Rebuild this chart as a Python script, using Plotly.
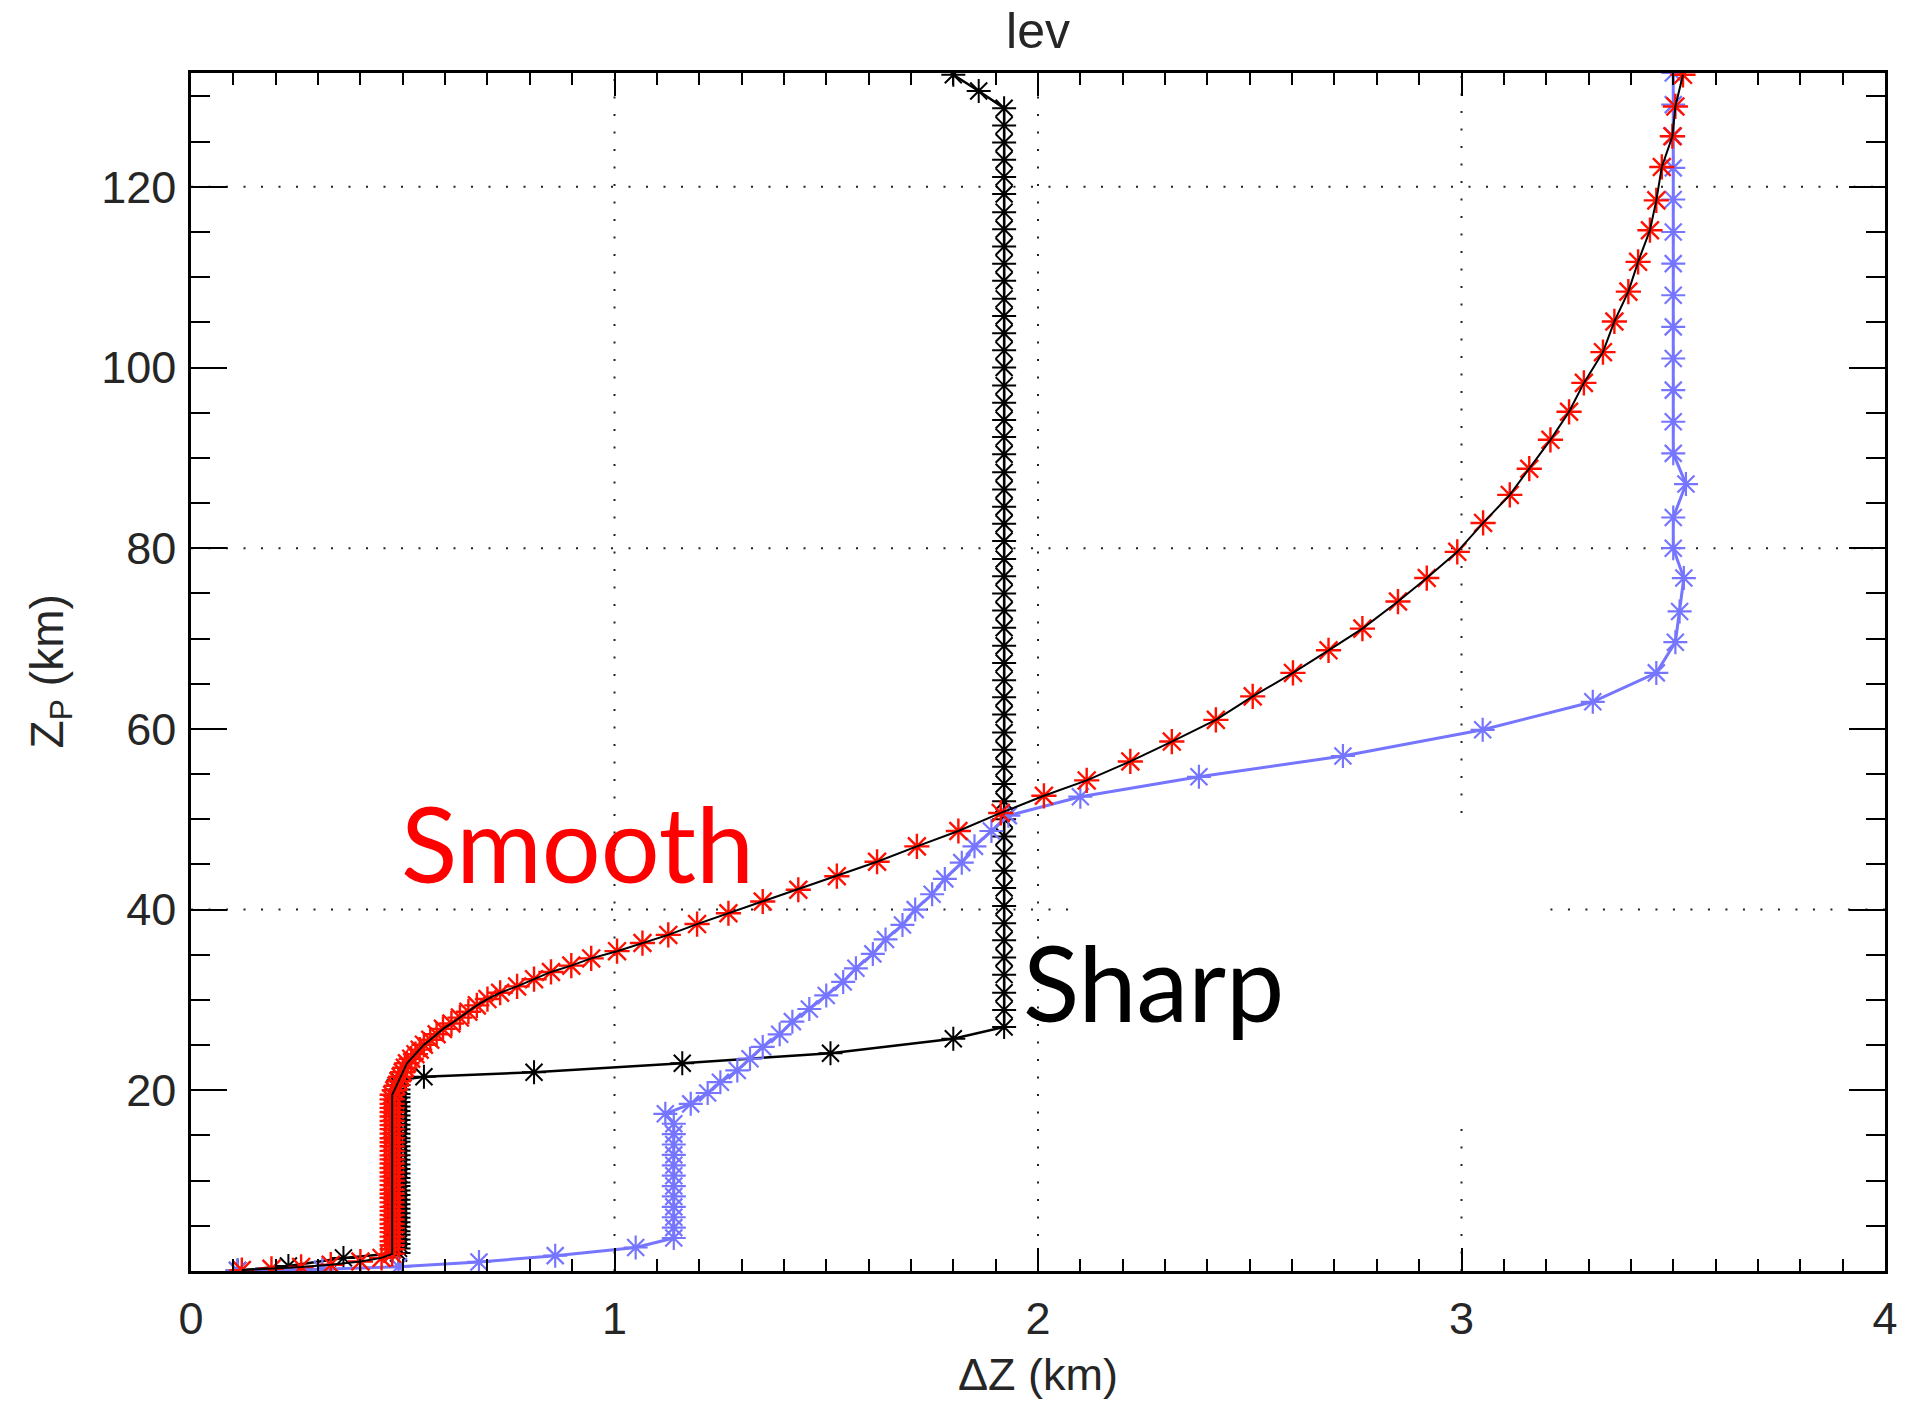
import plotly.graph_objects as go

# ---------------- data ----------------
# "Sharp" profile: layer thickness dZ (km) vs height Zp (km)
sharp_dz = [0.11, 0.23, 0.36,
            0.49, 0.49, 0.49, 0.49, 0.49, 0.49, 0.49, 0.49, 0.49, 0.49,
            0.49, 0.49, 0.49, 0.49, 0.49, 0.49, 0.49, 0.49, 0.49, 0.49,
            0.49, 0.49, 0.49, 0.49, 0.49, 0.49, 0.49, 0.49, 0.49, 0.49,
            0.49, 0.49, 0.49, 0.49, 0.49, 0.49, 0.49, 0.49, 0.49, 0.49,
            0.55, 0.81, 1.16, 1.51, 1.80,
            1.92, 1.92, 1.92, 1.92, 1.92, 1.92, 1.92, 1.92, 1.92, 1.92,
            1.92, 1.92, 1.92, 1.92, 1.92, 1.92, 1.92, 1.92, 1.92, 1.92,
            1.92, 1.92, 1.92, 1.92, 1.92, 1.92, 1.92, 1.92, 1.92, 1.92,
            1.92, 1.92, 1.92, 1.92, 1.92, 1.92, 1.92, 1.92, 1.92, 1.92,
            1.92, 1.92, 1.92, 1.92, 1.92, 1.92, 1.92, 1.92, 1.92, 1.92,
            1.92, 1.92, 1.92, 1.92,
            1.86, 1.80]
sharp_z = [0.05, 0.55, 1.45,
           2.0, 2.5, 3.0, 3.5, 4.0, 4.4, 4.9, 5.4, 5.9, 6.4,
           6.9, 7.4, 7.9, 8.4, 8.9, 9.4, 9.8, 10.3, 10.8, 11.3,
           11.8, 12.3, 12.8, 13.3, 13.8, 14.3, 14.7, 15.2, 15.7, 16.2,
           16.7, 17.2, 17.7, 18.2, 18.7, 19.2, 19.6, 20.1, 20.6, 21.1,
           21.5, 22.0, 23.0, 24.1, 25.7,
           27.0, 28.9, 30.8, 32.8, 34.7, 36.6, 38.5, 40.4, 42.4, 44.3,
           46.2, 48.1, 50.0, 52.0, 53.9, 55.8, 57.7, 59.6, 61.6, 63.5,
           65.4, 67.3, 69.2, 71.2, 73.1, 75.0, 76.9, 78.8, 80.8, 82.7,
           84.6, 86.5, 88.4, 90.4, 92.3, 94.2, 96.1, 98.0, 100.0, 101.9,
           103.8, 105.7, 107.6, 109.6, 111.5, 113.4, 115.3, 117.2, 119.2, 121.1,
           123.0, 124.9, 126.8, 128.7,
           130.6, 132.4]

# "Smooth" profile
smooth_dz = [0.12, 0.19, 0.26, 0.33, 0.40, 0.45,
             0.475, 0.475, 0.475, 0.475, 0.475, 0.475, 0.475, 0.475, 0.475, 0.475,
             0.475, 0.475, 0.475, 0.475, 0.475, 0.475, 0.475, 0.475, 0.475, 0.475,
             0.475, 0.475, 0.475, 0.475, 0.475, 0.475, 0.475, 0.475, 0.475, 0.475,
             0.475, 0.475, 0.475, 0.475, 0.475, 0.475, 0.475, 0.475,
             0.48, 0.485, 0.49, 0.495, 0.50, 0.505, 0.51, 0.52, 0.53, 0.54,
             0.55, 0.565, 0.58, 0.595, 0.615, 0.635, 0.655, 0.675, 0.70, 0.73,
             0.77, 0.81, 0.85, 0.898, 0.945, 1.006, 1.066, 1.127, 1.195, 1.269,
             1.35, 1.434, 1.525, 1.62, 1.714, 1.812, 1.912, 2.014, 2.115, 2.218,
             2.316, 2.42, 2.507, 2.602, 2.686, 2.766, 2.85, 2.918, 2.99, 3.051,
             3.114, 3.16, 3.21, 3.254, 3.289, 3.334, 3.361, 3.394, 3.417, 3.445,
             3.46, 3.473, 3.498, 3.505, 3.523]
smooth_z = [0.1, 0.25, 0.45, 0.7, 1.05, 1.45,
            1.9, 2.4, 2.85, 3.3, 3.8, 4.3, 4.75, 5.2, 5.7, 6.2,
            6.65, 7.1, 7.6, 8.1, 8.55, 9.0, 9.5, 10.0, 10.45, 10.9,
            11.4, 11.9, 12.35, 12.8, 13.3, 13.8, 14.25, 14.7, 15.2, 15.7,
            16.15, 16.6, 17.1, 17.6, 18.05, 18.5, 19.0, 19.5,
            20.0, 20.5, 21.0, 21.5, 22.0, 22.5, 23.0, 23.5, 24.0, 24.5,
            25.05, 25.6, 26.2, 26.8, 27.4, 28.05, 28.7, 29.4, 30.1, 30.8,
            31.5, 32.3, 33.1, 33.8, 34.6, 35.4, 36.3, 37.2, 38.4, 39.6,
            40.9, 42.2, 43.7, 45.3, 47.0, 48.7, 50.7, 52.6, 54.3, 56.4,
            58.6, 61.0, 63.6, 66.2, 68.7, 71.1, 74.1, 76.7, 79.6, 82.8,
            85.9, 88.8, 92.0, 95.1, 98.3, 101.7, 105.1, 108.4, 111.7, 115.2,
            118.5, 122.2, 125.6, 128.9, 132.4]

# third (blue) profile
blue_dz = [0.11, 0.31, 0.49, 0.68, 0.86, 1.05, 1.14,
           1.14, 1.14, 1.14, 1.14, 1.14, 1.14, 1.14, 1.14, 1.14, 1.14, 1.14,
           1.12, 1.18, 1.22, 1.25, 1.29, 1.32, 1.35, 1.39, 1.42, 1.46,
           1.50, 1.54, 1.57, 1.61, 1.64, 1.68, 1.71, 1.75, 1.78, 1.82,
           1.85, 1.89, 1.93, 2.10, 2.38, 2.72, 3.05, 3.31, 3.46, 3.505,
           3.515, 3.525, 3.50, 3.50, 3.53, 3.50, 3.50, 3.50, 3.50, 3.50,
           3.50, 3.50, 3.50, 3.50, 3.50, 3.50, 3.50, 3.50]
blue_z = [0.05, 0.18, 0.48, 1.0, 1.7, 2.6, 3.65,
          4.8, 5.95, 7.1, 8.25, 9.4, 10.55, 11.7, 12.85, 14.0, 15.15, 16.3,
          17.4, 18.5, 19.7, 20.9, 22.2, 23.5, 24.8, 26.2, 27.6, 29.0,
          30.5, 32.0, 33.5, 35.1, 36.7, 38.3, 40.0, 41.7, 43.4, 45.2,
          47.0, 48.7, 50.4, 52.5, 54.7, 57.0, 59.9, 63.0, 66.2, 69.6,
          73.0, 76.7, 80.0, 83.4, 87.1, 90.5, 94.0, 97.5, 101.0, 104.5,
          108.0, 111.5, 115.0, 118.6, 122.1, 125.6, 129.1, 132.6]

x_ticks = [0, 1, 2, 3, 4]
y_ticks = [20, 40, 60, 80, 100, 120]
x_grid = [1, 2, 3]
y_grid = [40, 80, 120]
x_range = [0, 4]
y_range = [0, 132.6]
# region of the plot where the dotted grid is blanked out
blank_x = [2.107, 3.21]
blank_y = [15.8, 50.7]

# ---------------- figure ----------------
BLUE = "#7575FF"
RED = "#FF1000"
TEXT = "#262626"
TICKFONT = dict(family="Liberation Sans", size=45, color=TEXT)

fig = go.Figure()

fig.add_trace(go.Scatter(
    x=sharp_dz, y=sharp_z, mode="lines+markers", name="Sharp",
    line=dict(color="black", width=2.5),
    marker=dict(symbol="asterisk-open", size=20, color="black",
                line=dict(color="black", width=2)),
    showlegend=False))

fig.add_trace(go.Scatter(
    x=blue_dz, y=blue_z, mode="lines+markers", name="Other",
    line=dict(color=BLUE, width=3),
    marker=dict(symbol="asterisk-open", size=20, color=BLUE,
                line=dict(color=BLUE, width=2.2)),
    showlegend=False))

fig.add_trace(go.Scatter(
    x=smooth_dz, y=smooth_z, mode="markers", name="Smooth",
    marker=dict(symbol="asterisk-open", size=21, color=RED,
                line=dict(color=RED, width=2.4)),
    showlegend=False))

fig.add_trace(go.Scatter(
    x=smooth_dz, y=smooth_z, mode="lines", name="Smooth line",
    line=dict(color="black", width=2),
    showlegend=False))

# dotted grid lines (interrupted where the blank region sits)
grid_style = dict(color="#222222", width=2, dash="2px,15.5px")
for xv in x_grid:
    if blank_x[0] < xv < blank_x[1]:
        segs = [(y_range[0], blank_y[0]), (blank_y[1], y_range[1])]
    else:
        segs = [(y_range[0], y_range[1])]
    for a, b in segs:
        fig.add_shape(type="line", xref="x", yref="y", x0=xv, x1=xv, y0=a, y1=b,
                      line=grid_style, layer="below")
for yv in y_grid:
    if blank_y[0] < yv < blank_y[1]:
        segs = [(x_range[0], blank_x[0]), (blank_x[1], x_range[1])]
    else:
        segs = [(x_range[0], x_range[1])]
    for a, b in segs:
        fig.add_shape(type="line", xref="x", yref="y", x0=a, x1=b, y0=yv, y1=yv,
                      line=grid_style, layer="below")

fig.add_annotation(x=0.49, y=47.4, xref="x", yref="y", text="Smooth",
                   showarrow=False, xanchor="left", yanchor="middle",
                   font=dict(family="Lato", size=104, color="#FF0000"))
fig.add_annotation(x=1.96, y=32.0, xref="x", yref="y", text="Sharp",
                   showarrow=False, xanchor="left", yanchor="middle",
                   font=dict(family="Lato", size=104, color="black"))

fig.add_annotation(x=0.5, y=-0.0865, xref="paper", yref="paper",
                   text="ΔZ (km)", showarrow=False,
                   xanchor="center", yanchor="middle",
                   font=dict(family="Liberation Sans", size=45, color=TEXT))
fig.add_annotation(x=-0.0835, y=0.5, xref="paper", yref="paper",
                   text="Z<sub>P</sub> (km)", showarrow=False, textangle=-90,
                   xanchor="center", yanchor="middle",
                   font=dict(family="Liberation Sans", size=46, color=TEXT))

fig.update_layout(
    width=1910, height=1406,
    margin=dict(l=191, r=18, t=73, b=135),
    paper_bgcolor="white", plot_bgcolor="white",
    title=dict(text="lev", x=0.5, xref="paper", y=0.978, yref="container",
               xanchor="center", yanchor="middle",
               font=dict(family="Liberation Sans", size=50, color=TEXT)),
    xaxis=dict(range=x_range, tickmode="array", tickvals=x_ticks,
               ticks="inside", ticklen=23, tickwidth=2, tickcolor="black",
               showline=True, linecolor="black", linewidth=2.5, mirror="allticks",
               showgrid=False, zeroline=False, tickfont=TICKFONT,
               ticklabelstandoff=6,
               minor=dict(tickmode="linear", tick0=0, dtick=0.1, ticks="inside",
                          ticklen=12, tickwidth=2, tickcolor="black", showgrid=False)),
    yaxis=dict(range=y_range, tickmode="array", tickvals=y_ticks,
               ticks="inside", ticklen=36, tickwidth=2, tickcolor="black",
               showline=True, linecolor="black", linewidth=2.5, mirror="allticks",
               showgrid=False, zeroline=False, tickfont=TICKFONT,
               ticklabelstandoff=3,
               minor=dict(tickmode="linear", tick0=0, dtick=5, ticks="inside",
                          ticklen=19, tickwidth=2, tickcolor="black", showgrid=False)),
)

fig.write_html("out.html")
